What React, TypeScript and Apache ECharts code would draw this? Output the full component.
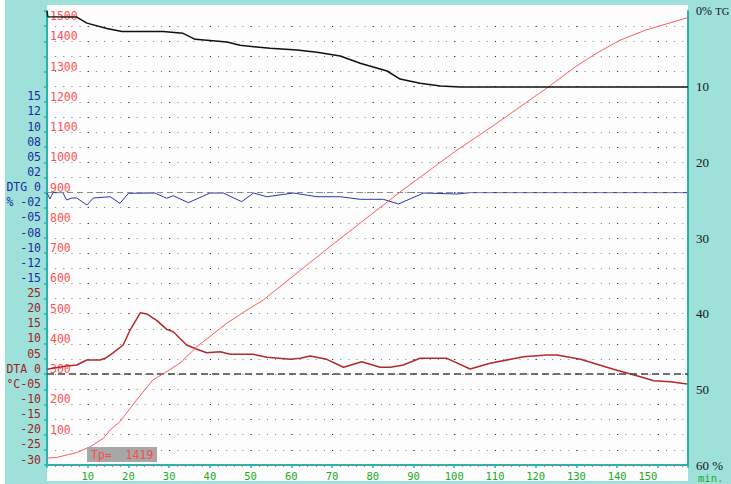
import { useEffect, useRef } from "react";
import * as echarts from "echarts";

// ---- time axis (minutes) ----
const timeMax = 157.4;
const timeUnit = "min.";

// ---- TG: mass loss, % (right axis, inverted) ----
const tgTime = [0, 0.2, 7.3, 9.8, 14.7, 18.4, 28.5, 33.4, 36.4, 44.2, 47.4, 54.8, 61.4, 66.3, 72, 76.9, 83.5, 86.7, 91.6, 96.6, 101.5, 157.4];
const tgPct = [0, 0.75, 0.8, 1.6, 2.3, 2.7, 2.7, 2.95, 3.74, 4.1, 4.53, 4.93, 5.15, 5.46, 5.95, 6.9, 7.93, 9.0, 9.55, 9.9, 10.05, 10.05];

// ---- furnace temperature, °C ----
const tempTime = [0, 2.4, 7.3, 10.6, 13.8, 15.5, 17.9, 22.0, 26.0, 28.5, 32.7, 36.8, 44.2, 49.1, 53.1, 70, 86.7, 100, 110, 123.1, 130, 135, 140.8, 147, 157.3];
const tempC = [23, 25, 41, 60, 88, 116, 143, 215, 281, 301, 337, 391, 469, 512, 545, 727, 902, 1034, 1125, 1249, 1318, 1361, 1404, 1437, 1478];

// ---- DTG, %/min ----
const dtgTime = [0, 0.7, 1.5, 3.9, 4.8, 6.1, 7.3, 9.8, 11.4, 15.5, 17.9, 20.0, 26.5, 29.4, 31.0, 34.7, 40.0, 43.3, 47.8, 50.7, 54.0, 60.5, 66.3, 72.0, 76.9, 82.6, 86.3, 92.5, 100.7, 104, 157.4];
const dtgPct = [0, -1.06, 0, 0, -1.22, -0.89, -0.89, -2.05, -0.89, -0.68, -1.77, -0.12, -0.07, -0.94, -0.51, -1.67, -0.07, -0.07, -1.5, -0.07, -0.68, -0.07, -0.68, -0.68, -1.11, -1.11, -1.88, -0.07, -0.23, 0, 0];

// ---- DTA, °C ----
const dtaTime = [0, 4.8, 7.3, 9.8, 13.0, 14.3, 16.3, 18.7, 20.4, 22.9, 24.5, 27.0, 29.4, 31.0, 34.3, 36.8, 39.2, 42.5, 45.0, 50.7, 54.0, 59.7, 62.2, 64.6, 68.7, 72.8, 77.3, 81.8, 84.3, 87.5, 91.6, 98.2, 103.9, 108.8, 117.0, 122.8, 125.2, 131.0, 139.1, 145.7, 149.0, 153.1, 157.2];
const dtaC = [1.62, 2.71, 3.04, 4.69, 4.69, 5.25, 7.1, 9.65, 14.6, 20.3, 19.9, 17.7, 14.8, 14.0, 9.65, 8.23, 7.1, 7.44, 6.58, 6.58, 5.59, 4.92, 5.25, 6.02, 4.92, 2.28, 4.13, 2.28, 2.28, 3.04, 5.25, 5.25, 1.72, 3.6, 5.78, 6.35, 6.35, 4.92, 1.62, -0.83, -2.15, -2.48, -3.24];

// ---- tick labels ----
const dtgTickValues = [15, 12.5, 10, 7.5, 5, 2.5, 0, -2.5, -5, -7.5, -10, -12.5, -15];
const dtgTickLabels = ["15", "12", "10", "08", "05", "02", "DTG 0", "% -02", "-05", "-08", "-10", "-12", "-15"];
const dtaTickValues = [25, 20, 15, 10, 5, 0, -5, -10, -15, -20, -25, -30];
const dtaTickLabels = ["25", "20", "15", "10", "05", "DTA 0", "°C-05", "-10", "-15", "-20", "-25", "-30"];
const tgTickValues = [0, 10, 20, 30, 40, 50, 60];
const tgTickLabels = ["{a|0%} {b|TG}", "10", "20", "30", "40", "50", "60 %"];
const peakTemp = 1419;

const zip = (xs: number[], ys: number[]) => xs.map((x, i) => [x, ys[i]]);
const pick = (vals: number[], labels: string[]) => (v: number) => {
  const i = vals.findIndex((t) => Math.abs(t - v) < 1e-6);
  return i >= 0 ? labels[i] : "";
};

const TEAL_BG = "#9ee1db";
const TEAL_AXIS = "#28b4ac";
const MONO = "'DejaVu Sans Mono', monospace";
const SERIF = "'Liberation Serif', serif";

export default function App() {
  const ref = useRef<HTMLDivElement>(null);

  useEffect(() => {
    if (!ref.current) return;
    const chart = echarts.init(ref.current, null, { renderer: "svg" });
    const gridLeft = 47;
    const gridRight = 688;
    const gridTop = 11;
    const gridBottom = 465;
    const pxPerMin = (gridRight - gridLeft) / timeMax;

    chart.setOption({
      animation: false,
      backgroundColor: TEAL_BG,
      grid: {
        left: gridLeft,
        right: 731 - gridRight,
        top: gridTop,
        bottom: 484 - gridBottom,
        outerBoundsMode: "none",
      },
      graphic: [
        { type: "rect", z: -10, shape: { x: 0, y: 0, width: 5, height: 484 }, style: { fill: "#ffffff" } },
        { type: "rect", z: -10, shape: { x: gridLeft, y: 5, width: gridRight - gridLeft, height: 476 }, style: { fill: "#fdfdfd" } },
        { type: "rect", z: 20, shape: { x: 87, y: 447, width: 70, height: 15 }, style: { fill: "#a7a7a7" } },
        {
          type: "text",
          z: 21,
          x: 91,
          y: 455,
          style: { text: `Tp=  ${peakTemp}`, fill: "#ff4a4a", font: `11.5px ${MONO}`, verticalAlign: "middle" },
        },
        {
          // unit of the time axis, under the right end of the axis
          type: "text",
          z: 21,
          x: gridRight + 10,
          y: 478,
          style: { text: timeUnit, fill: "#22aa22", font: `10.5px ${MONO}`, verticalAlign: "middle" },
        },
      ],
      xAxis: {
        type: "value",
        min: 0,
        max: timeMax,
        interval: 10,
        axisLine: { show: true, onZero: false, lineStyle: { color: TEAL_AXIS, width: 2 } },
        axisTick: { show: true, inside: false, length: 3, lineStyle: { color: TEAL_AXIS, width: 1.5 } },
        minorTick: { show: true, splitNumber: 5, length: 2, lineStyle: { color: "#ff5a5a", width: 1 } },
        splitLine: { show: false },
        axisLabel: {
          showMinLabel: false,
          showMaxLabel: false,
          margin: 5,
          color: "#22aa22",
          fontFamily: MONO,
          fontSize: 10.5,
          formatter: (v: number) => (v === 150 ? `{sh|${v}}` : `${v}`),
          rich: { sh: { color: "#22aa22", fontFamily: MONO, fontSize: 10.5, padding: [0, 20, 0, 0] } },
        },
      },
      yAxis: [
        {
          // 0: DTA, °C — left axis line, ticks and light grid dots
          type: "value",
          position: "left",
          min: -30,
          max: 120,
          interval: 5,
          axisLine: { show: true, onZero: false, lineStyle: { color: TEAL_AXIS, width: 2 } },
          axisTick: { show: true, length: 3, lineStyle: { color: TEAL_AXIS, width: 1.5 } },
          splitLine: {
            show: true,
            showMinLine: false,
            showMaxLine: false,
            lineStyle: { color: "#7a7a7a", width: 1, type: [1, pxPerMin * 2 - 1] },
          },
          axisLabel: {
            margin: 6,
            color: "#a31c1c",
            fontFamily: MONO,
            fontSize: 11.5,
            lineHeight: 11,
            verticalAlign: "bottom",
            formatter: pick(dtaTickValues, dtaTickLabels),
          },
        },
        {
          // 1: DTG, %/min — darker dots every 10 min
          type: "value",
          position: "left",
          min: -45,
          max: 30,
          interval: 2.5,
          axisLine: { show: false, onZero: false },
          axisTick: { show: false },
          splitLine: {
            show: true,
            showMinLine: false,
            showMaxLine: false,
            lineStyle: { color: "#222222", width: 1, type: [1, pxPerMin * 10 - 1] },
          },
          axisLabel: {
            margin: 6,
            color: "#1c2aa0",
            fontFamily: MONO,
            fontSize: 11.5,
            lineHeight: 11,
            verticalAlign: "bottom",
            formatter: pick(dtgTickValues, dtgTickLabels),
          },
        },
        {
          // 2: temperature, °C — labels inside the plot
          type: "value",
          position: "left",
          min: 0,
          max: 1500,
          interval: 100,
          axisLine: { show: false, onZero: false },
          axisTick: { show: false },
          splitLine: { show: false },
          axisLabel: {
            inside: true,
            margin: 3,
            showMinLabel: false,
            color: "#ff5252",
            fontFamily: MONO,
            fontSize: 11.5,
            lineHeight: 10,
            verticalAlign: "bottom",
            verticalAlignMaxLabel: "top",
            formatter: (v: number) => `${v}`,
          },
        },
        {
          // 3: TG, % — right axis, 0 at the top
          type: "value",
          position: "right",
          inverse: true,
          min: 0,
          max: 60,
          interval: 2,
          axisLine: { show: true, onZero: false, lineStyle: { color: TEAL_AXIS, width: 2 } },
          axisTick: { show: false },
          splitLine: { show: false },
          axisLabel: {
            margin: 8,
            color: "#111111",
            fontFamily: SERIF,
            fontSize: 13,
            formatter: pick(tgTickValues, tgTickLabels),
            rich: {
              a: { color: "#111111", fontFamily: SERIF, fontSize: 12 },
              b: { color: "#111111", fontFamily: SERIF, fontSize: 10.5 },
            },
          },
        },
      ],
      series: [
        {
          name: "DTA",
          type: "line",
          yAxisIndex: 0,
          data: zip(dtaTime, dtaC),
          symbol: "none",
          lineStyle: { color: "#b32a2a", width: 1.5 },
          z: 4,
          markLine: {
            silent: true,
            symbol: ["none", "none"],
            label: { show: false },
            lineStyle: { color: "#444444", width: 1.5, type: [7, 4] },
            data: [{ yAxis: 0 }],
          },
        },
        {
          name: "DTG",
          type: "line",
          yAxisIndex: 1,
          data: zip(dtgTime, dtgPct),
          symbol: "none",
          lineStyle: { color: "#2a36b0", width: 1 },
          z: 4,
          markLine: {
            silent: true,
            symbol: ["none", "none"],
            label: { show: false },
            lineStyle: { color: "#8c8c8c", width: 1, type: [6, 4] },
            data: [{ yAxis: 0 }],
          },
        },
        {
          name: "T",
          type: "line",
          yAxisIndex: 2,
          data: zip(tempTime, tempC),
          symbol: "none",
          lineStyle: { color: "#ff5c5c", width: 1 },
          z: 5,
        },
        {
          name: "TG",
          type: "line",
          yAxisIndex: 3,
          data: zip(tgTime, tgPct),
          symbol: "none",
          lineStyle: { color: "#111111", width: 1.5 },
          z: 6,
        },
      ],
    });

    return () => chart.dispose();
  }, []);

  return <div ref={ref} style={{ position: "fixed", left: 0, top: 0, width: 731, height: 484 }} />;
}
